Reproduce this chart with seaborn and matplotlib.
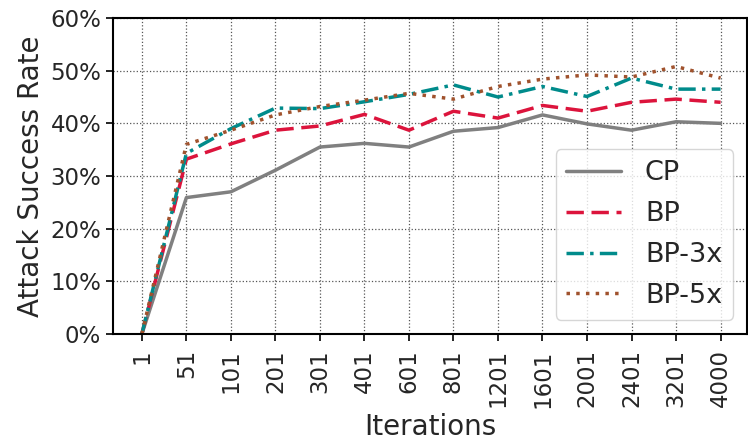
import matplotlib
matplotlib.use("Agg")
import matplotlib.pyplot as plt
import seaborn as sns
import numpy as np
import pandas as pd
from matplotlib.ticker import FuncFormatter

iterations = ["1", "51", "101", "201", "301", "401", "601", "801", "1201", "1601", "2001", "2401", "3201", "4000"]
cp = [0, 25.9, 27.0, 31.1, 35.5, 36.2, 35.5, 38.5, 39.2, 41.6, 39.9, 38.7, 40.3, 40.0]
bp = [0, 33.2, 36.1, 38.7, 39.5, 41.7, 38.7, 42.3, 41.0, 43.4, 42.3, 44.0, 44.6, 44.0]
bp3 = [0, 34.3, 39.0, 42.9, 42.8, 44.1, 45.5, 47.3, 45.0, 47.0, 45.1, 48.6, 46.5, 46.5]
bp5 = [0, 36.0, 38.7, 41.6, 43.2, 44.4, 45.7, 44.6, 47.0, 48.4, 49.2, 48.8, 50.8, 48.6]

sns.set_style("white")
plt.rcParams['font.family'] = ['DejaVu Sans']

fig = plt.figure(figsize=(7.48, 4.4), dpi=100)
ax = fig.add_axes([0.151, 0.241, 0.848, 0.718])

pos = np.arange(len(iterations))
series = [
    ("CP", cp, "#808080", "-"),
    ("BP", bp, "#DC143C", (0, (5, 2.2))),
    ("BP-3x", bp3, "#008B8B", (0, (5, 1.8, 1, 1.8))),
    ("BP-5x", bp5, "#A0522D", (0, (1, 1.8))),
]
for name, vals, col, ls in series:
    df = pd.DataFrame({"x": pos, "y": vals})
    sns.lineplot(data=df, x="x", y="y", ax=ax, color=col, linestyle=ls, linewidth=2.5, label=name)

ax.set_xlim(-0.65, 13.6)
ax.set_ylim(0, 60)
ax.set_xticks(pos)
ax.set_xticklabels(iterations, rotation=90, fontsize=16.5)
ax.set_yticks(np.arange(0, 61, 10))
ax.yaxis.set_major_formatter(FuncFormatter(lambda v, p: f"{int(v)}%"))
ax.tick_params(axis='y', labelsize=16.5)
ax.tick_params(axis='both', direction='out', length=5, width=1.2, color='black', bottom=True, left=True)
ax.tick_params(axis='x', pad=6)
ax.grid(True, linestyle=':', color='#555555', linewidth=0.9)
for s in ax.spines.values():
    s.set_color('black')
    s.set_linewidth(1.5)
ax.set_xlabel("Iterations", fontsize=20, labelpad=4)
ax.set_ylabel("Attack Success Rate", fontsize=20, labelpad=4)
leg = ax.legend(loc='lower right', fontsize=19.5, handlelength=2.0, frameon=True,
                bbox_to_anchor=(0.999, 0.002), borderpad=0.4, labelspacing=0.55,
                handletextpad=0.9)
fig.savefig("out.png", dpi=100)
